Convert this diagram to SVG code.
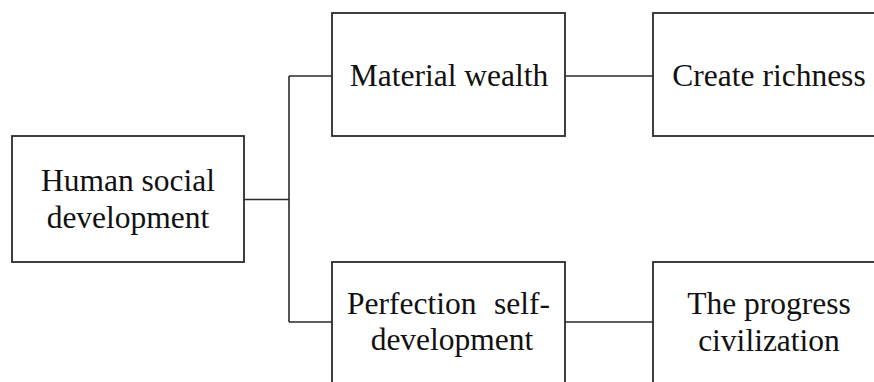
<svg xmlns="http://www.w3.org/2000/svg" width="874" height="382" viewBox="0 0 874 382">
<style>
.box{fill:#fff;stroke:#2b2b2b;stroke-width:1.8}
.t{font-family:"Liberation Serif","Times New Roman",serif;font-size:31.5px;fill:#111}
.c{text-anchor:middle}
.ln{fill:none;stroke:#2b2b2b;stroke-width:1.6}
</style>
<rect width="874" height="382" fill="#fff"/>
<g id="connectors">
<path class="ln" d="M244 199.5H289M289 76V322M289 76H332M289 322H332M565 76H653M565 322H653"/>
</g>
<g id="human">
<rect class="box" x="12" y="136" width="232" height="126"/>
<text class="t c" x="128" y="191">Human social</text>
<text class="t c" x="128" y="228">development</text>
</g>
<g id="material">
<rect class="box" x="332" y="13" width="233" height="123"/>
<text class="t c" x="449" y="86">Material wealth</text>
</g>
<g id="richness">
<rect class="box" x="653" y="13" width="232" height="123"/>
<text class="t c" x="769" y="86">Create richness</text>
</g>
<g id="perfection">
<rect class="box" x="332" y="262" width="233" height="130"/>
<text class="t" x="347" y="314">Perfection</text>
<text class="t" x="550" y="314" text-anchor="end">self-</text>
<text class="t c" x="452" y="350">development</text>
</g>
<g id="progress">
<rect class="box" x="653" y="262" width="232" height="130"/>
<text class="t c" x="769" y="314">The progress</text>
<text class="t c" x="769" y="351">civilization</text>
</g>
</svg>
